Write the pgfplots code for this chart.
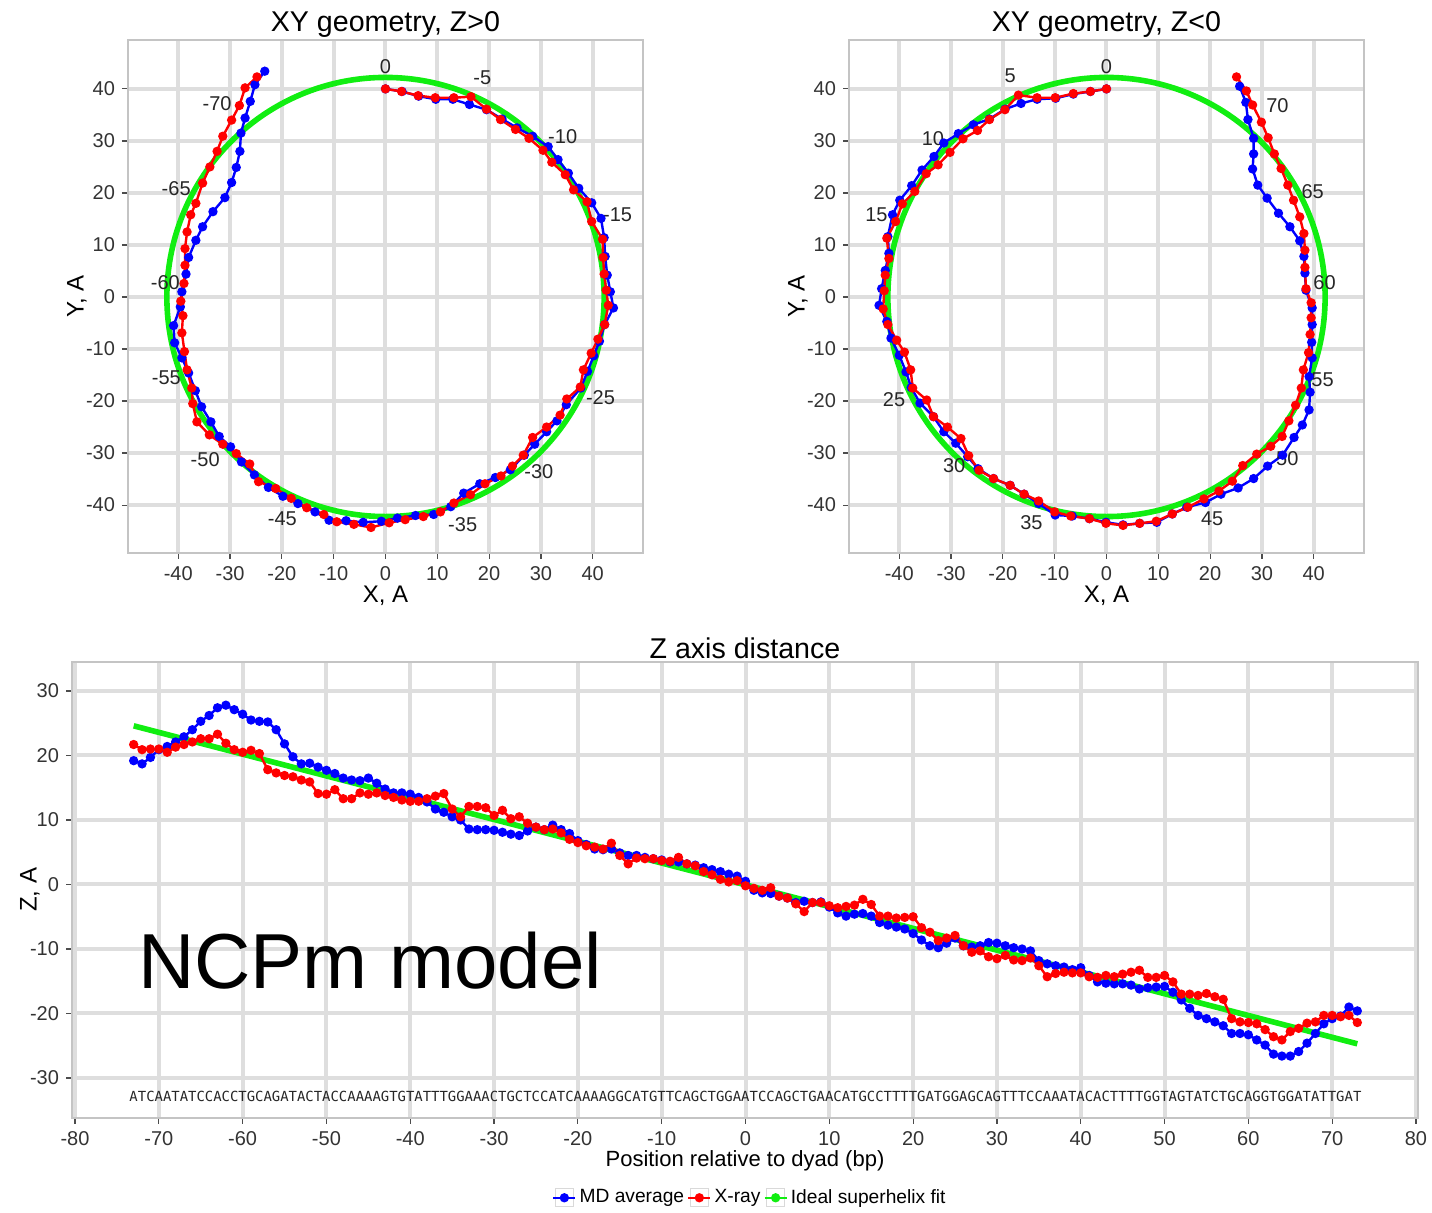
\documentclass[border=0pt]{standalone}
\usepackage{pgfplots}
\usepackage{pgfplotstable}
\usepackage{graphicx}
\pgfplotsset{compat=1.18}
\usepackage{fontspec}
\setmainfont{Liberation Sans}
\newfontfamily\seqfont{DejaVu Sans Mono}
\definecolor{gridgray}{HTML}{DEDEDE}
\definecolor{framegray}{HTML}{C4C4C4}
\definecolor{ticktext}{HTML}{333333}
\definecolor{mdblue}{HTML}{0000FF}
\definecolor{xred}{HTML}{FF0000}
\definecolor{fitgreen}{HTML}{11EE11}

\pgfplotstableread{
pos md xray
-73 19.2 21.7
-72 18.7 20.9
-71 19.7 21.0
-70 20.9 21.0
-69 21.4 20.5
-68 22.1 21.3
-67 22.9 21.7
-66 24.0 22.1
-65 25.3 22.6
-64 26.2 22.6
-63 27.4 23.3
-62 27.8 21.9
-61 27.1 20.9
-60 26.4 20.5
-59 25.5 20.8
-58 25.3 20.3
-57 25.2 17.8
-56 24.0 17.3
-55 21.8 16.9
-54 19.8 16.7
-53 18.7 16.2
-52 18.8 15.9
-51 18.2 14.1
-50 17.7 14.0
-49 17.2 14.7
-48 16.5 13.3
-47 16.2 13.3
-46 16.1 14.2
-45 16.5 14.0
-44 15.7 14.2
-43 14.8 13.8
-42 14.2 13.5
-41 14.2 13.1
-40 14.0 12.9
-39 13.5 12.9
-38 12.8 13.3
-37 11.7 13.7
-36 11.2 14.1
-35 10.5 11.7
-34 10.0 10.5
-33 8.6 12.1
-32 8.5 12.1
-31 8.5 11.9
-30 8.4 10.7
-29 8.1 11.5
-28 7.8 10.2
-27 7.6 10.5
-26 8.3 9.5
-25 8.9 8.9
-24 8.5 8.5
-23 9.2 8.6
-22 8.5 8.0
-21 7.9 7.0
-20 6.8 6.5
-19 6.2 6.0
-18 5.5 5.8
-17 5.4 5.5
-16 5.5 6.4
-15 4.9 4.5
-14 4.5 3.2
-13 4.5 4.1
-12 4.2 4.0
-11 4.0 4.0
-10 3.8 3.7
-9 3.5 3.6
-8 3.5 4.2
-7 3.2 3.2
-6 3.0 2.9
-5 2.6 2.0
-4 2.3 1.5
-3 2.0 0.8
-2 1.6 0.4
-1 1.3 0.6
0 0.5 -0.2
1 -0.9 -0.6
2 -1.3 -0.9
3 -1.4 -0.5
4 -1.8 -1.8
5 -2.1 -2.1
6 -2.8 -3.0
7 -2.6 -4.2
8 -2.8 -2.8
9 -2.7 -2.8
10 -3.5 -3.3
11 -4.4 -3.6
12 -4.9 -3.4
13 -4.6 -3.2
14 -4.5 -2.3
15 -4.9 -3.1
16 -5.9 -4.9
17 -6.3 -4.9
18 -6.6 -5.2
19 -6.9 -5.1
20 -7.6 -5.0
21 -8.6 -6.7
22 -9.5 -7.4
23 -9.8 -8.7
24 -9.1 -8.3
25 -8.3 -7.9
26 -9.5 -9.5
27 -9.7 -10.5
28 -9.5 -10.3
29 -9.0 -11.2
30 -9.1 -11.5
31 -9.5 -11.0
32 -9.8 -11.7
33 -10.0 -11.8
34 -10.3 -11.4
35 -11.8 -12.6
36 -12.3 -14.3
37 -12.6 -13.8
38 -12.8 -13.6
39 -13.2 -13.7
40 -12.9 -13.7
41 -14.1 -14.3
42 -15.1 -14.4
43 -15.3 -14.1
44 -15.4 -14.3
45 -15.4 -13.9
46 -15.6 -13.6
47 -16.2 -13.3
48 -16.0 -14.4
49 -15.9 -14.4
50 -15.8 -14.1
51 -16.7 -15.1
52 -17.9 -17.0
53 -19.2 -17.0
54 -20.3 -17.2
55 -20.8 -16.9
56 -21.3 -17.4
57 -21.9 -17.8
58 -23.1 -20.8
59 -23.1 -21.3
60 -23.3 -21.4
61 -24.1 -21.6
62 -24.9 -22.5
63 -26.3 -23.6
64 -26.6 -24.1
65 -26.6 -22.8
66 -25.9 -22.3
67 -24.6 -21.5
68 -23.1 -21.3
69 -21.6 -20.3
70 -20.8 -20.3
71 -20.4 -20.5
72 -19.0 -20.3
73 -19.6 -21.4
}\zdata

\pgfplotstableread{
x y
0.0 40.0
3.2 39.5
6.4 38.6
9.7 38.0
13.0 38.0
16.2 37.0
19.5 36.0
22.5 34.2
25.4 32.5
28.4 30.9
31.4 28.9
33.3 26.4
35.3 23.8
37.3 20.9
39.8 18.1
41.6 15.1
42.2 11.4
42.4 7.8
42.8 4.2
43.4 1.0
44.0 -2.1
42.3 -5.3
41.3 -8.5
40.2 -11.3
39.0 -14.3
37.7 -17.5
34.9 -20.7
33.1 -23.8
31.1 -25.9
28.8 -28.3
26.8 -30.4
24.1 -33.2
21.2 -34.7
18.2 -35.9
15.1 -37.7
12.6 -40.3
9.3 -41.8
5.8 -42.0
2.3 -42.5
-0.8 -43.1
-4.3 -43.3
-7.6 -43.0
-10.9 -42.9
-13.6 -41.3
-16.9 -39.7
-19.8 -38.3
-22.6 -36.6
-25.3 -34.2
-27.8 -31.7
-29.9 -28.8
-32.1 -26.8
-33.7 -24.0
-35.5 -21.1
-36.7 -18.0
-38.0 -14.6
-39.3 -11.7
-40.7 -8.8
-40.9 -5.5
-39.6 -1.9
-39.3 1.0
-38.5 4.4
-38.0 7.6
-36.6 10.9
-35.3 13.5
-33.3 16.4
-31.0 19.1
-29.7 22.0
-28.8 24.9
-28.1 28.0
-27.9 31.5
-27.1 34.4
-26.1 37.6
-25.2 40.8
-23.3 43.4
}\bluepos

\pgfplotstableread{
x y
0.0 40.0
3.1 39.5
6.3 38.7
9.6 38.3
13.2 38.3
16.5 38.5
19.5 36.1
22.2 34.1
25.1 32.2
27.7 30.5
30.4 28.2
32.1 25.9
34.7 23.5
36.3 20.6
38.9 18.3
39.8 14.5
41.9 11.1
42.0 7.6
42.2 4.4
42.6 1.3
43.0 -1.6
42.3 -5.3
41.0 -8.1
39.7 -10.8
38.2 -14.0
37.6 -17.3
35.0 -19.6
33.7 -22.7
31.1 -25.0
28.4 -27.0
26.6 -30.4
24.5 -32.5
22.3 -34.4
19.2 -35.9
16.4 -38.0
13.2 -39.6
10.6 -41.3
7.3 -42.2
3.8 -42.8
0.7 -43.4
-2.8 -44.3
-6.1 -43.7
-9.4 -43.2
-11.9 -41.8
-15.2 -40.5
-18.2 -38.7
-21.2 -36.8
-24.5 -35.5
-26.2 -32.1
-28.8 -30.1
-31.4 -28.3
-34.0 -26.5
-36.4 -24.0
-37.2 -20.5
-37.4 -17.5
-38.3 -14.0
-38.8 -10.5
-39.3 -6.9
-39.1 -3.6
-39.5 -0.8
-38.9 2.6
-38.7 6.1
-38.7 9.3
-38.3 12.5
-37.6 15.8
-36.6 18.0
-35.3 21.9
-33.9 25.0
-32.5 28.0
-31.4 30.9
-29.7 34.0
-28.2 36.8
-27.1 40.2
-24.8 42.3
}\redpos

\pgfplotstableread{
x y
0.0 40.0
-3.1 39.5
-6.4 39.0
-9.8 38.2
-13.4 38.0
-16.5 37.2
-19.6 36.1
-22.6 34.2
-25.7 33.1
-28.6 31.4
-31.4 29.6
-33.3 27.0
-35.6 24.4
-37.6 21.4
-39.9 18.6
-41.3 15.8
-42.2 11.6
-42.0 8.4
-42.7 5.1
-43.4 1.6
-43.9 -1.6
-42.4 -4.7
-41.6 -7.9
-40.0 -11.2
-38.7 -14.4
-37.7 -17.4
-36.0 -20.4
-33.4 -23.0
-31.4 -25.9
-29.1 -28.1
-26.8 -30.7
-24.8 -33.0
-21.8 -34.9
-18.6 -36.2
-15.9 -37.9
-13.1 -39.7
-9.9 -41.9
-6.6 -42.1
-3.3 -42.6
-0.1 -43.3
3.2 -43.8
6.4 -43.5
9.7 -43.3
12.7 -41.7
15.5 -40.4
19.1 -39.5
22.1 -37.9
25.4 -36.7
28.4 -34.9
31.1 -32.5
34.0 -30.4
36.2 -27.0
37.8 -24.6
39.1 -21.7
39.3 -18.3
39.1 -15.3
39.7 -11.7
39.6 -8.7
39.7 -5.3
39.7 -2.1
38.5 1.3
38.3 4.6
38.1 7.8
37.3 10.8
35.4 13.5
33.2 16.1
31.0 19.0
29.2 21.5
28.2 24.6
28.4 27.5
28.4 30.5
27.3 34.1
26.9 37.4
25.7 40.5
}\blueneg

\pgfplotstableread{
x y
0.0 40.0
-3.1 39.5
-6.4 39.1
-9.9 38.3
-13.4 38.3
-17.0 38.8
-19.6 36.0
-22.6 34.1
-24.9 32.0
-27.7 30.4
-30.2 27.8
-32.5 25.4
-34.8 23.7
-37.0 20.3
-39.4 17.9
-40.7 14.5
-42.4 11.3
-42.0 7.4
-42.7 4.2
-42.9 1.2
-43.1 -2.3
-42.2 -5.3
-40.5 -8.3
-39.0 -10.6
-37.8 -14.0
-37.4 -17.5
-34.7 -19.8
-33.4 -23.0
-30.7 -25.0
-28.1 -27.2
-26.6 -30.5
-24.6 -33.3
-21.8 -34.9
-18.6 -36.2
-15.9 -37.9
-13.1 -39.2
-10.0 -41.3
-6.9 -42.1
-3.3 -42.6
-0.1 -43.5
3.2 -43.9
6.4 -43.5
9.6 -43.1
12.7 -41.7
15.7 -40.4
18.8 -38.8
21.7 -37.3
24.3 -35.4
26.3 -32.4
29.0 -30.2
31.7 -28.7
33.9 -26.8
35.2 -23.8
36.5 -20.8
37.6 -17.5
38.0 -14.0
39.0 -10.7
39.3 -7.2
39.5 -4.0
39.5 -1.1
38.5 1.6
38.3 5.7
38.3 9.0
38.1 12.2
37.3 15.4
36.1 18.6
35.0 21.5
33.7 24.7
32.4 27.5
31.2 30.6
29.9 33.6
28.2 36.9
27.0 39.6
25.1 42.3
}\redneg

\tikzset{
  annot/.style={font=\fontsize{10}{12}\selectfont, text=black!85, inner sep=0pt},
  ttl/.style={font=\fontsize{14.3}{16}\selectfont, inner sep=0pt, anchor=base},
}

\pgfplotsset{
  ggbase/.style={
    scale only axis,
    axis line style={framegray, line width=0.6pt},
    grid=major,
    major grid style={gridgray, line width=2pt},
    tick align=outside,
    tick pos=left,
    major tick length=3pt,
    tick style={black!70, line width=0.6pt},
    every tick label/.append style={font=\fontsize{10}{12}\selectfont, text=ticktext},
    /pgf/number format/assume math mode=true,
    label style={font=\fontsize{12}{14}\selectfont},
    clip=false,
  },
  xyplot/.style={
    ggbase, width=257.5pt, height=256.5pt,
    xmin=-49.7, xmax=49.7, ymin=-49.2, ymax=49.4,
    xtick={-40,-30,...,40}, ytick={-40,-30,...,40},
    xlabel={X, A}, ylabel={Y, A},
    xlabel style={yshift=4pt},
    ylabel style={at={(axis description cs:-0.099,0.5)}, anchor=center},
  },
  mdline/.style={mdblue, line width=1.2pt, mark=*, mark size=1.7pt, mark options={solid, fill=mdblue, draw=mdblue}},
  xrline/.style={xred, line width=1.2pt, mark=*, mark size=1.7pt, mark options={solid, fill=xred, draw=xred}},
}

\begin{document}
\begin{tikzpicture}
\useasboundingbox (0,0) rectangle (716pt,606.5pt);

% ---------- XY geometry, Z>0 ----------
\begin{axis}[xyplot, at={(64pt,330pt)}, anchor=south west]
\draw[fitgreen, line width=2.8pt] (axis cs:0,0) circle [radius=42.2];
\addplot[mdline] table[x=x,y=y] {\bluepos};
\addplot[xrline] table[x=x,y=y] {\redpos};
\node[annot] at (axis cs:0,44.3) {0};
\node[annot] at (axis cs:18.7,42.2) {-5};
\node[annot] at (axis cs:34.2,30.8) {-10};
\node[annot] at (axis cs:44.8,15.8) {-15};
\node[annot] at (axis cs:41.5,-19.4) {-25};
\node[annot] at (axis cs:29.6,-33.5) {-30};
\node[annot] at (axis cs:14.9,-43.7) {-35};
\node[annot] at (axis cs:-19.9,-42.7) {-45};
\node[annot] at (axis cs:-34.8,-31.3) {-50};
\node[annot] at (axis cs:-42.3,-15.6) {-55};
\node[annot] at (axis cs:-42.5,2.7) {-60};
\node[annot] at (axis cs:-40.4,20.8) {-65};
\node[annot] at (axis cs:-32.5,37.1) {-70};
\node[ttl] at (axis description cs:0.5,1) [yshift=4pt] {XY geometry, Z>0};
\end{axis}

% ---------- XY geometry, Z<0 ----------
\begin{axis}[xyplot, at={(424.5pt,330pt)}, anchor=south west]
\draw[fitgreen, line width=2.8pt] (axis cs:0,0) circle [radius=42.2];
\addplot[mdline] table[x=x,y=y] {\blueneg};
\addplot[xrline] table[x=x,y=y] {\redneg};
\node[annot] at (axis cs:0,44.3) {0};
\node[annot] at (axis cs:-18.6,42.5) {5};
\node[annot] at (axis cs:-33.5,30.5) {10};
\node[annot] at (axis cs:-44.4,15.9) {15};
\node[annot] at (axis cs:-41.0,-19.7) {25};
\node[annot] at (axis cs:-29.4,-32.4) {30};
\node[annot] at (axis cs:-14.5,-43.4) {35};
\node[annot] at (axis cs:20.4,-42.6) {45};
\node[annot] at (axis cs:34.9,-31.1) {50};
\node[annot] at (axis cs:41.7,-15.9) {55};
\node[annot] at (axis cs:42.1,2.8) {60};
\node[annot] at (axis cs:39.8,20.3) {65};
\node[annot] at (axis cs:33.0,36.8) {70};
\node[ttl] at (axis description cs:0.5,1) [yshift=4pt] {XY geometry, Z<0};
\end{axis}

% ---------- Z axis distance ----------
\begin{axis}[ggbase, at={(36pt,47.5pt)}, anchor=south west,
  width=673pt, height=228pt,
  xmin=-80.36, xmax=80.24, ymin=-36.2, ymax=34.5,
  xtick={-80,-70,...,80}, ytick={-30,-20,...,30},
  xlabel={Position relative to dyad (bp)},
  ylabel={Z, A},
  xlabel style={font=\fontsize{11}{13}\selectfont, yshift=4pt},
  ylabel style={at={(axis description cs:-0.0312,0.5)}, anchor=center},
  legend columns=3,
  legend style={at={(axis description cs:0.504,-0.175)}, anchor=center, draw=none, fill=none,
    font=\fontsize{9.6}{11}\selectfont, inner sep=0pt, nodes={inner xsep=1.5pt},
    /tikz/every even column/.append style={column sep=0pt}},
  legend image code/.code={
    \draw[gray!30, fill=white, line width=0.5pt, solid] (0pt,-4.5pt) rectangle (9pt,4.5pt);
    \draw[#1, mark repeat=2, mark phase=2] plot coordinates {(-1pt,0pt) (4.5pt,0pt) (10pt,0pt)};
  },
]
\addplot[fitgreen, line width=2.8pt, forget plot] coordinates {(-73,24.6) (73,-24.7)};
\addplot[mdline] table[x=pos,y=md] {\zdata};
\addlegendentry{MD average}
\addplot[xrline] table[x=pos,y=xray] {\zdata};
\addlegendentry{X-ray}
\addlegendimage{fitgreen, line width=1.2pt, mark=*, mark size=1.7pt, mark options={fill=fitgreen, draw=fitgreen}}
\addlegendentry{Ideal superhelix fit}
\node[font=\fontsize{39}{40}\selectfont, inner sep=0pt] at (axis cs:-44.8,-11.8) {NCPm model};
\node[inner sep=0pt, text=black!85] at (axis cs:0,-32.9) {\resizebox{616pt}{!}{\seqfont ATCAATATCCACCTGCAGATACTACCAAAAGTGTATTTGGAAACTGCTCCATCAAAAGGCATGTTCAGCTGGAATCCAGCTGAACATGCCTTTTGATGGAGCAGTTTCCAAATACACTTTTGGTAGTATCTGCAGGTGGATATTGAT}};
\node[ttl] at (axis description cs:0.5,1) [yshift=1.5pt] {Z axis distance};
\end{axis}
\end{tikzpicture}
\end{document}
